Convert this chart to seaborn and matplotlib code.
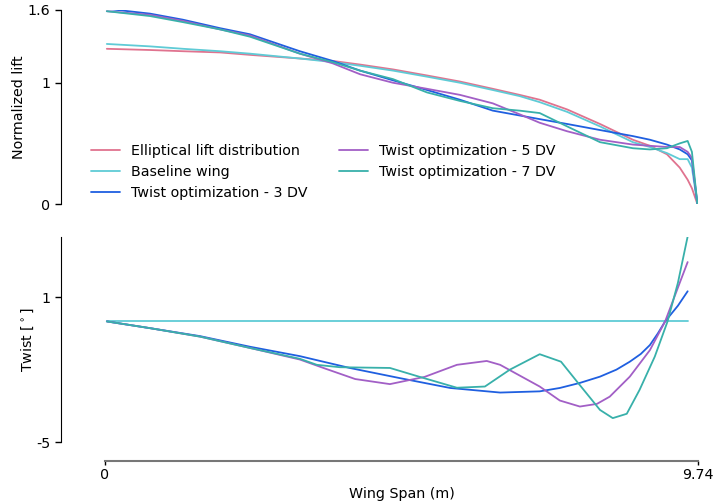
import numpy as np
import pandas as pd
import matplotlib
matplotlib.use("Agg")
import matplotlib.pyplot as plt
import seaborn as sns

# Spanwise stations (m) for the lift curves
lift_span = [0.03, 0.74, 1.28, 1.89, 2.38, 3.20, 3.74, 4.19, 4.73, 5.29, 5.83,
             6.37, 6.81, 7.14, 7.59, 8.13, 8.67, 8.95, 9.23, 9.44, 9.57, 9.64, 9.73]

lift_elliptical = [1.28, 1.27, 1.26, 1.25, 1.23, 1.20, 1.18, 1.15, 1.11, 1.06, 1.01,
                   0.95, 0.90, 0.86, 0.78, 0.66, 0.53, 0.48, 0.41, 0.30, 0.20, 0.13, 0.0]
lift_baseline = [1.32, 1.30, 1.28, 1.26, 1.24, 1.20, 1.17, 1.14, 1.10, 1.05, 1.00,
                 0.94, 0.89, 0.84, 0.76, 0.64, 0.51, 0.47, 0.42, 0.37, 0.37, 0.30, 0.0]
lift_3dv = [1.61, 1.57, 1.52, 1.45, 1.40, 1.26, 1.18, 1.10, 1.02, 0.94, 0.86,
            0.77, 0.73, 0.70, 0.66, 0.61, 0.56, 0.53, 0.49, 0.45, 0.41, 0.36, 0.0]
lift_5dv = [1.59, 1.56, 1.51, 1.44, 1.39, 1.24, 1.16, 1.07, 1.00, 0.95, 0.90,
            0.83, 0.74, 0.67, 0.60, 0.53, 0.49, 0.48, 0.47, 0.47, 0.43, 0.38, 0.0]
lift_7dv = [1.59, 1.55, 1.50, 1.44, 1.38, 1.24, 1.17, 1.10, 1.03, 0.92, 0.85,
            0.79, 0.77, 0.75, 0.64, 0.51, 0.46, 0.45, 0.46, 0.50, 0.52, 0.43, 0.0]

# Twist distributions (deg)
twist_base_span = [0.03, 3.0, 6.0, 9.57]
twist_base = [0.0, 0.0, 0.0, 0.0]

twist_3dv_span = [0.03, 0.74, 1.56, 2.38, 3.20, 4.02, 4.84, 5.67, 6.49, 7.14, 7.47,
                  7.80, 8.13, 8.40, 8.62, 8.80, 8.95, 9.08, 9.20, 9.41, 9.57]
twist_3dv = [0.0, -0.28, -0.61, -1.05, -1.44, -1.93, -2.35, -2.76, -2.95, -2.90, -2.76,
             -2.55, -2.29, -2.00, -1.67, -1.35, -0.98, -0.50, 0.0, 0.65, 1.25]

twist_5dv_span = [0.03, 0.74, 1.56, 2.38, 3.20, 3.61, 4.11, 4.68, 5.25, 5.78, 6.27,
                  6.49, 7.14, 7.47, 7.80, 8.08, 8.29, 8.62, 8.95, 9.20, 9.41, 9.57]
twist_5dv = [0.0, -0.28, -0.63, -1.10, -1.58, -1.95, -2.39, -2.60, -2.30, -1.80, -1.64,
             -1.80, -2.70, -3.28, -3.53, -3.42, -3.12, -2.29, -1.19, 0.0, 1.40, 2.46]

twist_7dv_span = [0.03, 0.74, 1.56, 2.38, 3.20, 3.48, 3.86, 4.68, 5.17, 5.78, 6.24,
                  6.65, 7.14, 7.49, 7.77, 8.13, 8.34, 8.57, 8.78, 9.03, 9.24, 9.41, 9.57]
twist_7dv = [0.0, -0.28, -0.63, -1.10, -1.55, -1.80, -1.90, -1.93, -2.30, -2.75, -2.70,
             -2.00, -1.36, -1.67, -2.55, -3.67, -4.01, -3.83, -2.84, -1.46, 0.0, 1.60, 3.52]

labels = ["Elliptical lift distribution", "Baseline wing", "Twist optimization - 3 DV",
          "Twist optimization - 5 DV", "Twist optimization - 7 DV"]
colors = ["#e0738f", "#5fcbd6", "#1f5fe0", "#a25fc6", "#38b0aa"]

sns.set_style("white")
plt.rcParams['font.family'] = ['DejaVu Sans']
plt.rcParams['text.color'] = 'black'
plt.rcParams['axes.labelcolor'] = 'black'
plt.rcParams['xtick.color'] = 'black'
plt.rcParams['ytick.color'] = 'black'

fs = 10.3

fig = plt.figure(figsize=(7.14, 5.04), dpi=100)
ax_top = fig.add_axes([105 / 714, 1 - 204 / 504, 593 / 714, 194 / 504])
ax_bot = fig.add_axes([105 / 714, 1 - 442 / 504, 593 / 714, 205 / 504])

# Lift distribution
lift_series = [lift_elliptical, lift_baseline, lift_3dv, lift_5dv, lift_7dv]
for vals, lab, col in zip(lift_series, labels, colors):
    sns.lineplot(x=lift_span, y=vals, ax=ax_top, color=col, lw=1.3, label=lab)

ax_top.set_xlim(0, 9.74)
ax_top.set_ylim(0, 1.6)
ax_top.set_yticks([0, 1, 1.6])
ax_top.set_yticklabels(["0", "1", "1.6"])
ax_top.set_xticks([])
ax_top.set_ylabel("Normalized lift", fontsize=fs, labelpad=1)
ax_top.legend(loc="lower left", bbox_to_anchor=(-0.045, -0.045), ncol=2, frameon=False,
              fontsize=fs, handlelength=2.0, columnspacing=2.2, labelspacing=0.5)

# Twist distribution
twist_series = [(twist_base_span, twist_base), (twist_3dv_span, twist_3dv),
                (twist_5dv_span, twist_5dv), (twist_7dv_span, twist_7dv)]
for (xs, ys), col in zip(twist_series, colors[1:]):
    sns.lineplot(x=xs, y=ys, ax=ax_bot, color=col, lw=1.3, legend=False)

ax_bot.set_xlim(0, 9.74)
ax_bot.set_ylim(-5, 3.5)
ax_bot.set_yticks([-5, 1])
ax_bot.set_yticklabels(["-5", "1"])
ax_bot.set_xticks([0, 9.74])
ax_bot.set_xticklabels(["0", "9.74"])
ax_bot.set_ylabel(r"Twist [$^\circ$]", fontsize=fs, labelpad=0)
ax_bot.set_xlabel("Wing Span (m)", fontsize=fs, labelpad=3)

for ax in (ax_top, ax_bot):
    ax.spines["top"].set_visible(False)
    ax.spines["right"].set_visible(False)
    ax.spines["left"].set_position(("outward", 32))
    ax.spines["left"].set_color("black")
    ax.tick_params(axis="y", which="both", left=True, length=4, width=1, labelsize=fs, color="black")

ax_top.spines["bottom"].set_visible(False)
ax_bot.spines["bottom"].set_position(("outward", 14))
ax_bot.spines["bottom"].set_color("#777777")
ax_bot.spines["bottom"].set_linewidth(1.5)
ax_bot.tick_params(axis="x", bottom=True, length=3, width=1, labelsize=fs, color="black", pad=2)

fig.savefig("out.png", dpi=100)
